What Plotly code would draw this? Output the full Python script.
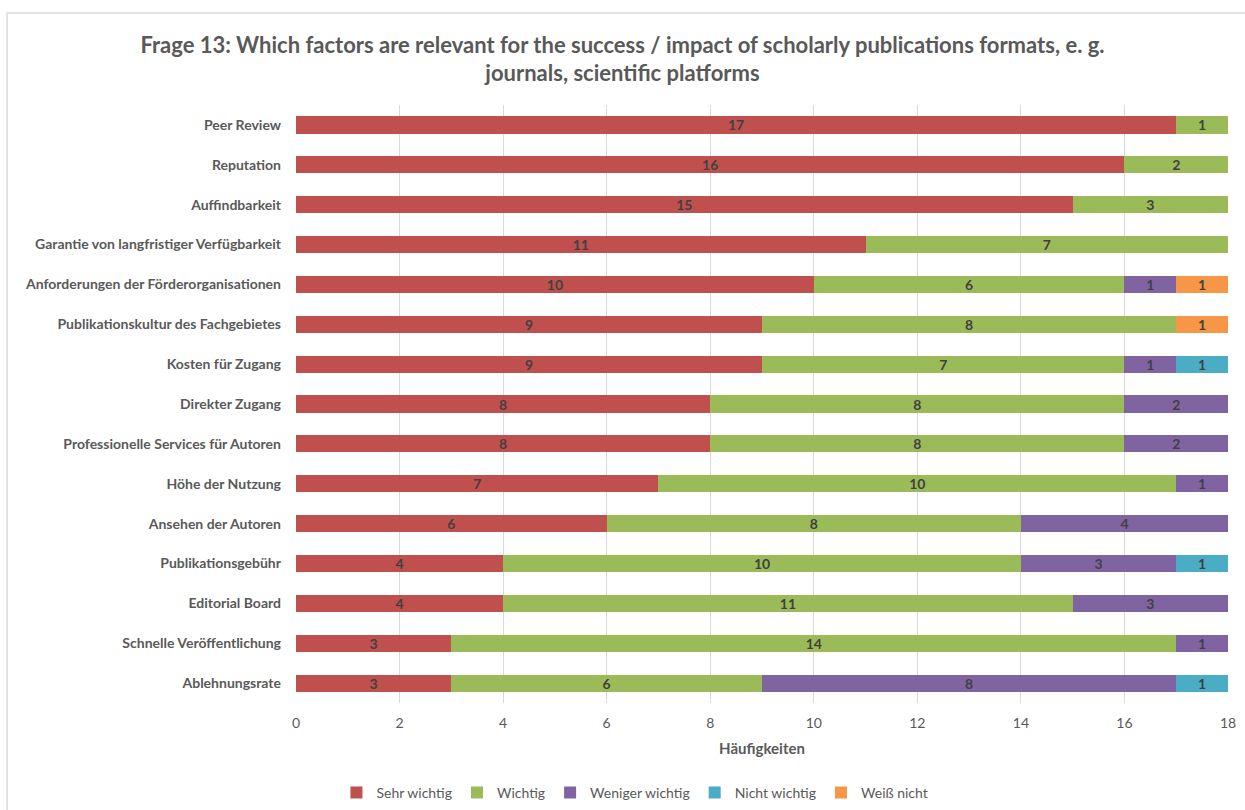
import plotly.graph_objects as go

categories = [
    "Peer Review",
    "Reputation",
    "Auffindbarkeit",
    "Garantie von langfristiger Verfügbarkeit",
    "Anforderungen der Förderorganisationen",
    "Publikationskultur des Fachgebietes",
    "Kosten für Zugang",
    "Direkter Zugang",
    "Professionelle Services für Autoren",
    "Höhe der Nutzung",
    "Ansehen der Autoren",
    "Publikationsgebühr",
    "Editorial Board",
    "Schnelle Veröffentlichung",
    "Ablehnungsrate",
]

sehr_wichtig = [17, 16, 15, 11, 10, 9, 9, 8, 8, 7, 6, 4, 4, 3, 3]
wichtig = [1, 2, 3, 7, 6, 8, 7, 8, 8, 10, 8, 10, 11, 14, 6]
weniger_wichtig = [0, 0, 0, 0, 1, 0, 1, 2, 2, 1, 4, 3, 3, 1, 8]
nicht_wichtig = [0, 0, 0, 0, 0, 0, 1, 0, 0, 0, 0, 1, 0, 0, 1]
weiss_nicht = [0, 0, 0, 0, 1, 1, 0, 0, 0, 0, 0, 0, 0, 0, 0]

series = [
    ("Sehr wichtig", sehr_wichtig, "#C0504D"),
    ("Wichtig", wichtig, "#9BBB59"),
    ("Weniger wichtig", weniger_wichtig, "#8064A2"),
    ("Nicht wichtig", nicht_wichtig, "#4BACC6"),
    ("Weiß nicht", weiss_nicht, "#F79646"),
]

x_ticks = [0, 2, 4, 6, 8, 10, 12, 14, 16, 18]

FONT = "Lato"

fig = go.Figure()
for name, vals, color in series:
    fig.add_trace(go.Bar(
        name=name,
        y=categories,
        x=[v if v else None for v in vals],
        orientation="h",
        marker=dict(color=color, line=dict(width=0)),
        text=[str(v) if v else "" for v in vals],
        textposition="inside",
        insidetextanchor="middle",
        textangle=0,
        textfont=dict(family=FONT, size=14, color="#404040", weight="bold"),
        constraintext="none",
    ))

fig.update_layout(
    barmode="stack",
    bargap=0.57,
    width=1245,
    height=810,
    margin=dict(l=296, r=17, t=105, b=107, autoexpand=False),
    paper_bgcolor="white",
    plot_bgcolor="white",
    font=dict(family=FONT, color="#595959"),
    title=dict(
        text="Frage 13: Which factors are relevant for the success / impact of scholarly publications formats, e. g.<br>journals, scientific platforms",
        x=0.5,
        xanchor="center",
        y=0.935,
        yanchor="top",
        font=dict(family=FONT, size=22, color="#595959", weight="bold"),
    ),
    xaxis=dict(
        range=[0, 18],
        tickvals=x_ticks,
        ticktext=[str(t) for t in x_ticks],
        showgrid=True,
        gridcolor="#D9D9D9",
        gridwidth=1,
        zeroline=False,
        showline=False,
        ticks="",
        ticklabelstandoff=10,
        tickfont=dict(family=FONT, size=14, color="#595959"),
        title=dict(text="Häufigkeiten", standoff=13,
                   font=dict(family=FONT, size=15, color="#595959", weight="bold")),
        automargin=False,
        fixedrange=True,
    ),
    yaxis=dict(
        categoryorder="array",
        categoryarray=categories,
        autorange="reversed",
        showgrid=False,
        showline=False,
        ticks="",
        ticklabelstandoff=14,
        tickfont=dict(family=FONT, size=14, color="#595959", weight="bold"),
        automargin=False,
        fixedrange=True,
    ),
    legend=dict(
        orientation="h",
        xref="container",
        x=0.51,
        xanchor="center",
        yref="container",
        y=0.021,
        yanchor="middle",
        font=dict(family=FONT, size=14, color="#595959"),
        itemwidth=30,
        traceorder="normal",
    ),
    shapes=[
        dict(type="rect", xref="paper", yref="paper",
             x0=-0.310, x1=1.03, y0=-0.2, y1=1.1538,
             line=dict(color="#D9D9D9", width=1.5), fillcolor="rgba(0,0,0,0)",
             layer="below"),
    ],
)

fig.write_html("out.html")
